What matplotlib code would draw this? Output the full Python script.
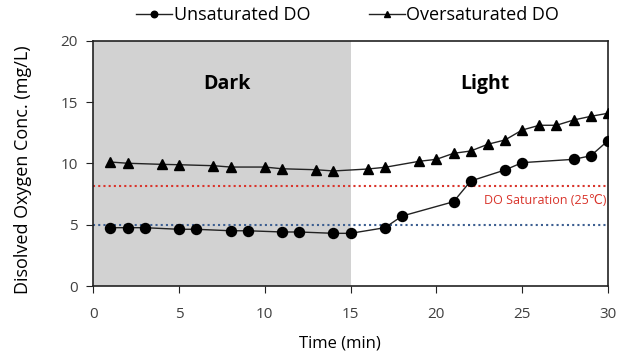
import matplotlib
matplotlib.use("Agg")
import matplotlib.pyplot as plt

plt.rcParams['font.family'] = ['Open Sans', 'DejaVu Sans']

unsat_x = [1, 2, 3, 5, 6, 8, 9, 11, 12, 14, 15, 17, 18, 21, 22, 24, 25, 28, 29, 30]
unsat_y = [4.76, 4.76, 4.76, 4.63, 4.63, 4.51, 4.51, 4.41, 4.41, 4.30, 4.30,
           4.76, 5.71, 6.88, 8.57, 9.47, 10.07, 10.34, 10.63, 11.86]
over_x = [1, 2, 4, 5, 7, 8, 10, 11, 13, 14, 16, 17, 19, 20, 21, 22, 23, 24, 25, 26, 27, 28, 29, 30]
over_y = [10.12, 10.02, 9.93, 9.90, 9.82, 9.71, 9.71, 9.57, 9.49, 9.39,
          9.55, 9.69, 10.18, 10.34, 10.83, 11.02, 11.57, 11.92, 12.73, 13.12, 13.12, 13.55, 13.85, 14.1]
do_sat = 8.2
do_ref = 5.0
dark_end = 15
xticks = [0, 5, 10, 15, 20, 25, 30]
yticks = [0, 5, 10, 15, 20]

fig = plt.figure(figsize=(6.29, 3.58), dpi=100)
ax = fig.add_axes([0.1483, 0.2011, 0.9665 - 0.1483, 0.8855 - 0.2011])

ax.axvspan(0, dark_end, color='#d2d2d2', lw=0, zorder=0)
ax.axhline(do_sat, color='#d9342b', ls=(0, (1, 1.5)), lw=1.5, zorder=1)
ax.axhline(do_ref, color='#3d5f91', ls=(0, (1, 1.5)), lw=1.5, zorder=1)

ax.plot(unsat_x, unsat_y, color='#222222', lw=1, marker='o', ms=7.2,
        mfc='black', mec='black', label='Unsaturated DO', zorder=3)
ax.plot(over_x, over_y, color='#222222', lw=1, marker='^', ms=7.5,
        mfc='black', mec='black', label='Oversaturated DO', zorder=3)

ax.set_xlim(0, 30)
ax.set_ylim(0, 20)
ax.set_xticks(xticks)
ax.set_yticks(yticks)
ax.tick_params(direction='out', length=5, labelsize=11, colors='#222222',
               labelcolor='#404040')
ax.tick_params(axis='x', pad=10)
ax.tick_params(axis='y', pad=6)
for s in ax.spines.values():
    s.set_color('#222222')
    s.set_linewidth(1.2)

ax.text(7.8, 16.5, 'Dark', fontsize=14, fontweight='bold', ha='center', va='center')
ax.text(22.8, 16.5, 'Light', fontsize=14, fontweight='bold', ha='center', va='center')
ax.text(29.9, 7.0, 'DO Saturation (25\u2103)', fontsize=9, color='#d9342b',
        ha='right', va='center')

ax.set_xlabel('Time (min)', fontsize=12)
ax.xaxis.set_label_coords(0.48, -0.2)
ax.set_ylabel('Disolved Oxygen Conc. (mg/L)', fontsize=13)
ax.yaxis.set_label_coords(-0.12, 0.473)

fig.legend(loc='center', bbox_to_anchor=(0.553, 0.958), ncol=2, frameon=False,
           fontsize=13, handlelength=2.0, columnspacing=3.2, handletextpad=0.1,
           markerscale=0.65)

fig.savefig('out.png', dpi=100)
